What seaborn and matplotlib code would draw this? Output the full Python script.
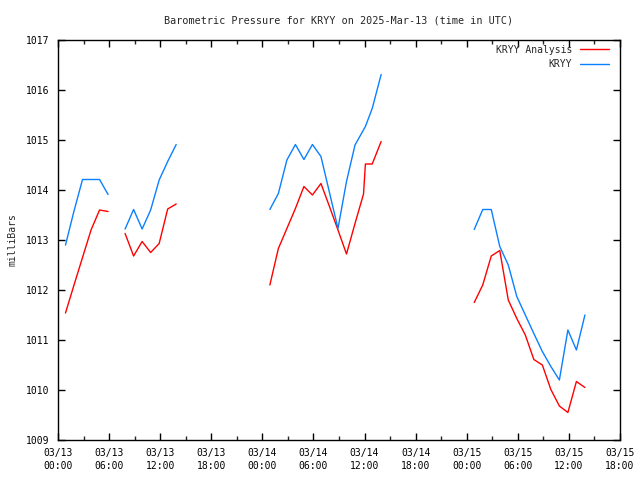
import numpy as np
import pandas as pd
import seaborn as sns
import matplotlib.pyplot as plt

# hours after 2025-03-13 00:00 UTC
analysis_times = [
    [0.88, 1.88, 2.88, 3.88, 4.88, 5.88],
    [7.88, 8.88, 9.88, 10.88, 11.88, 12.88, 13.88],
    [24.88, 25.88, 26.88, 27.88, 28.88, 29.88, 30.88, 31.88, 32.88, 33.88,
     34.88, 35.88, 36.1, 36.9, 37.95],
    [48.88, 49.88, 50.88, 51.88, 52.88, 53.88, 54.88, 55.88, 56.88, 57.88,
     58.88, 59.88, 60.88, 61.88],
]
analysis_values = [
    [1011.54, 1012.1, 1012.65, 1013.2, 1013.6, 1013.57],
    [1013.13, 1012.68, 1012.97, 1012.75, 1012.93, 1013.62, 1013.72],
    [1012.1, 1012.83, 1013.23, 1013.63, 1014.07, 1013.9, 1014.13, 1013.67,
     1013.2, 1012.72, 1013.33, 1013.92, 1014.52, 1014.52, 1014.97],
    [1011.75, 1012.1, 1012.68, 1012.79, 1011.8, 1011.43, 1011.1, 1010.61,
     1010.5, 1010.01, 1009.68, 1009.55, 1010.17, 1010.05],
]

obs_times = [
    [0.88, 1.88, 2.88, 3.88, 4.88, 5.88],
    [7.88, 8.88, 9.88, 10.88, 11.88, 12.88, 13.88],
    [24.88, 25.88, 26.88, 27.88, 28.88, 29.88, 30.88, 31.88, 32.88, 33.88,
     34.88, 36.1, 36.9, 37.95],
    [48.88, 49.88, 50.88, 51.88, 52.88, 53.88, 54.88, 55.88, 56.88, 57.88,
     58.88, 59.88, 60.88, 61.88],
]
obs_values = [
    [1012.9, 1013.58, 1014.21, 1014.21, 1014.21, 1013.91],
    [1013.22, 1013.61, 1013.22, 1013.6, 1014.2, 1014.57, 1014.91],
    [1013.61, 1013.93, 1014.6, 1014.91, 1014.61, 1014.91, 1014.67, 1013.95,
     1013.23, 1014.17, 1014.9, 1015.27, 1015.63, 1016.31],
    [1013.21, 1013.61, 1013.61, 1012.87, 1012.5, 1011.87, 1011.5, 1011.13,
     1010.77, 1010.47, 1010.2, 1011.2, 1010.8, 1011.5],
]

tick_hours = list(range(0, 67, 6))
tick_labels = ["03/13\n00:00", "03/13\n06:00", "03/13\n12:00", "03/13\n18:00",
               "03/14\n00:00", "03/14\n06:00", "03/14\n12:00", "03/14\n18:00",
               "03/15\n00:00", "03/15\n06:00", "03/15\n12:00", "03/15\n18:00"]

rows = []
for name, times, values in [("KRYY Analysis", analysis_times, analysis_values),
                            ("KRYY", obs_times, obs_values)]:
    for seg, (ts, vs) in enumerate(zip(times, values)):
        for t, v in zip(ts, vs):
            rows.append({"hour": t, "pressure": v, "series": name, "seg": seg})
df = pd.DataFrame(rows)

sns.set_style("ticks")
plt.rcParams["font.family"] = ["DejaVu Sans Mono"]
plt.rcParams["font.size"] = 7

fig = plt.figure(figsize=(6.4, 4.8), dpi=100)
ax = fig.add_axes([58 / 640, 40 / 480, 562 / 640, 400 / 480])

sns.lineplot(data=df, x="hour", y="pressure", hue="series", units="seg",
             estimator=None, sort=False, ax=ax, linewidth=1,
             palette={"KRYY Analysis": "#ff0000", "KRYY": "#0a80ff"})

ax.set_xlim(0, 66)
ax.set_ylim(1009, 1017)
ax.set_xticks(tick_hours)
ax.set_xticklabels(tick_labels, linespacing=1.35)
ax.set_xticks(range(3, 66, 6), minor=True)
ax.set_yticks(range(1009, 1018))
ax.tick_params(direction="in", top=True, right=True, length=5, width=1,
               colors="black", labelsize=7, pad=6)
ax.tick_params(which="minor", direction="in", top=True, length=3, width=1)
for s in ax.spines.values():
    s.set_linewidth(1)
    s.set_color("black")

ax.set_xlabel("")
ax.set_ylabel("milliBars", fontsize=7, labelpad=6)
ax.set_title("Barometric Pressure for KRYY on 2025-Mar-13 (time in UTC)",
             fontsize=7.3, pad=12)

ax.legend(loc="upper right", bbox_to_anchor=(1 - 4 / 562, 1 + 2 / 400),
          frameon=False, markerfirst=False, fontsize=7,
          handlelength=3, handletextpad=0.8, borderaxespad=0.3,
          borderpad=0.4, labelspacing=0.45)

fig.savefig("out.png", dpi=100)
